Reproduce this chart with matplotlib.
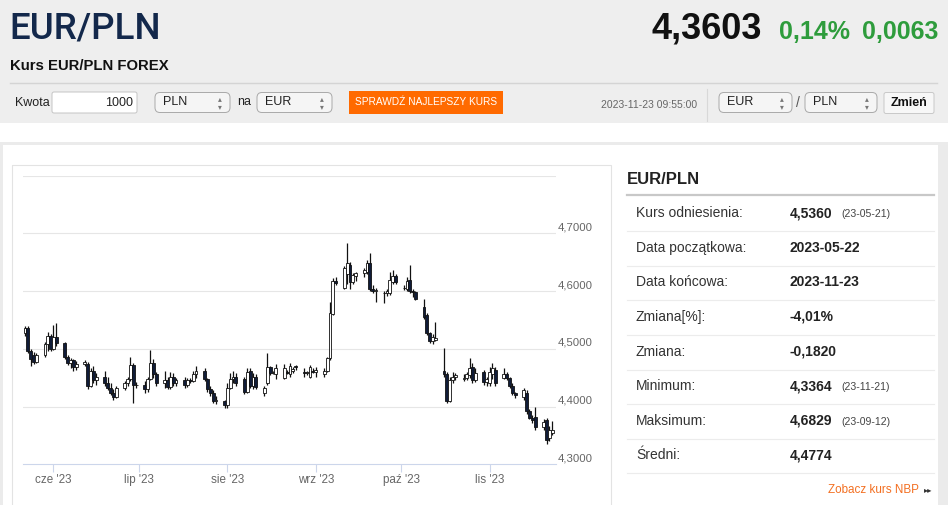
import numpy as np
import pandas as pd
import matplotlib
matplotlib.use('Agg')
import matplotlib.pyplot as plt
import matplotlib.dates as mdates
import matplotlib.transforms as mtransforms
from matplotlib.patches import Rectangle, FancyBboxPatch

plt.rcParams['font.family'] = ['Liberation Sans', 'DejaVu Sans']

# dzienne notowania EUR/PLN (dni robocze 2023-05-22 .. 2023-11-23)
dates = pd.bdate_range('2023-05-22', '2023-11-23')

opens = [
    4.527, 4.536, 4.497, 4.490, 4.478,
    4.489, 4.508, 4.522, 4.500, 4.521,
    4.510, 4.486, 4.476, 4.480, 4.468,
    4.474, 4.474, 4.436, 4.462, 4.446,
    4.452, 4.440, 4.432, 4.424, 4.416,
    4.432, 4.440, 4.448, 4.472, 4.438,
    4.437, 4.430, 4.448, 4.476, 4.456,
    4.440, 4.446, 4.434, 4.452, 4.440,
    4.446, 4.438, 4.446, 4.445, 4.456,
    4.462, 4.448, 4.430, 4.424, 4.410,
    4.410, 4.402, 4.432, 4.448, 4.452,
    4.448, 4.426, 4.462, 4.436, 4.452,
    4.424, 4.440, 4.468, 4.458, 4.456,
    4.450, 4.460, 4.456, 4.462, 4.470,
    4.460, 4.458, 4.452, 4.462, 4.460,
    4.456, 4.462, 4.484, 4.560, 4.618,
    4.606, 4.630, 4.646, 4.616, 4.626,
    4.632, 4.634, 4.648, 4.604, 4.600,
    4.596, 4.596, 4.597, 4.615, 4.627,
    4.606, 4.604, 4.620, 4.600, 4.598,
    4.572, 4.558, 4.527, 4.513, 4.516,
    4.462, 4.456, 4.410, 4.446, 4.452,
    4.448, 4.450, 4.454, 4.468, 4.446,
    4.460, 4.442, 4.440, 4.456, 4.464,
    4.450, 4.456, 4.450, 4.436, 4.424,
    4.416, 4.424, 4.392, 4.381, 4.382,
    4.364, 4.376, 4.346, 4.354,
]
highs = [
    4.540, 4.539, 4.500, 4.495, 4.492,
    4.512, 4.530, 4.526, 4.541, 4.545,
    4.512, 4.490, 4.484, 4.483, 4.479,
    4.480, 4.478, 4.466, 4.470, 4.458,
    4.462, 4.452, 4.440, 4.430, 4.436,
    4.445, 4.452, 4.486, 4.476, 4.442,
    4.445, 4.452, 4.498, 4.482, 4.460,
    4.462, 4.452, 4.460, 4.458, 4.450,
    4.452, 4.450, 4.450, 4.462, 4.470,
    4.466, 4.450, 4.436, 4.428, 4.418,
    4.412, 4.440, 4.458, 4.462, 4.458,
    4.452, 4.467, 4.466, 4.458, 4.456,
    4.436, 4.493, 4.470, 4.462, 4.474,
    4.473, 4.464, 4.475, 4.468, 4.472,
    4.466, 4.462, 4.472, 4.466, 4.468,
    4.466, 4.486, 4.581, 4.622, 4.624,
    4.644, 4.683, 4.650, 4.632, 4.634,
    4.640, 4.654, 4.666, 4.610, 4.606,
    4.600, 4.604, 4.633, 4.636, 4.630,
    4.610, 4.625, 4.645, 4.604, 4.600,
    4.586, 4.562, 4.530, 4.526, 4.547,
    4.502, 4.460, 4.452, 4.460, 4.458,
    4.456, 4.460, 4.484, 4.476, 4.466,
    4.464, 4.452, 4.468, 4.476, 4.468,
    4.467, 4.460, 4.452, 4.440, 4.426,
    4.432, 4.428, 4.396, 4.386, 4.400,
    4.378, 4.380, 4.366, 4.375,
]
lows = [
    4.522, 4.493, 4.470, 4.474, 4.476,
    4.486, 4.496, 4.497, 4.498, 4.505,
    4.483, 4.472, 4.466, 4.462, 4.463,
    4.470, 4.430, 4.434, 4.440, 4.438,
    4.436, 4.428, 4.420, 4.412, 4.414,
    4.428, 4.436, 4.444, 4.406, 4.432,
    4.424, 4.426, 4.446, 4.450, 4.436,
    4.432, 4.430, 4.430, 4.436, 4.436,
    4.432, 4.434, 4.440, 4.442, 4.450,
    4.444, 4.426, 4.418, 4.406, 4.404,
    4.398, 4.398, 4.430, 4.440, 4.436,
    4.422, 4.424, 4.432, 4.430, 4.430,
    4.419, 4.438, 4.454, 4.456, 4.448,
    4.448, 4.456, 4.452, 4.458, 4.464,
    4.452, 4.455, 4.450, 4.458, 4.452,
    4.452, 4.460, 4.480, 4.558, 4.610,
    4.604, 4.612, 4.604, 4.612, 4.618,
    4.624, 4.630, 4.600, 4.596, 4.581,
    4.580, 4.592, 4.594, 4.612, 4.612,
    4.602, 4.600, 4.596, 4.590, 4.584,
    4.552, 4.524, 4.510, 4.508, 4.514,
    4.452, 4.406, 4.408, 4.440, 4.446,
    4.444, 4.446, 4.450, 4.440, 4.442,
    4.438, 4.436, 4.436, 4.448, 4.436,
    4.448, 4.446, 4.432, 4.420, 4.414,
    4.412, 4.388, 4.378, 4.372, 4.360,
    4.360, 4.336, 4.340, 4.350,
]
closes = [
    4.536, 4.497, 4.482, 4.478, 4.489,
    4.508, 4.522, 4.500, 4.521, 4.510,
    4.486, 4.476, 4.480, 4.468, 4.474,
    4.477, 4.436, 4.462, 4.446, 4.452,
    4.440, 4.432, 4.424, 4.416, 4.432,
    4.440, 4.448, 4.472, 4.438, 4.437,
    4.430, 4.448, 4.476, 4.456, 4.440,
    4.446, 4.434, 4.452, 4.440, 4.446,
    4.438, 4.446, 4.445, 4.456, 4.462,
    4.448, 4.430, 4.424, 4.410, 4.412,
    4.402, 4.432, 4.448, 4.452, 4.440,
    4.426, 4.460, 4.436, 4.452, 4.434,
    4.432, 4.468, 4.458, 4.460, 4.466,
    4.466, 4.458, 4.470, 4.465, 4.468,
    4.458, 4.460, 4.468, 4.460, 4.464,
    4.462, 4.484, 4.562, 4.618, 4.614,
    4.640, 4.648, 4.616, 4.628, 4.632,
    4.636, 4.648, 4.604, 4.600, 4.602,
    4.597, 4.601, 4.620, 4.627, 4.615,
    4.605, 4.618, 4.600, 4.598, 4.586,
    4.556, 4.527, 4.513, 4.520, 4.518,
    4.456, 4.410, 4.446, 4.452, 4.454,
    4.450, 4.456, 4.467, 4.446, 4.458,
    4.442, 4.448, 4.460, 4.466, 4.440,
    4.456, 4.450, 4.436, 4.424, 4.420,
    4.428, 4.392, 4.381, 4.376, 4.364,
    4.374, 4.342, 4.360, 4.360,
]

y_ticks = [4.3, 4.4, 4.5, 4.6, 4.7, 4.8]
month_ticks = ['2023-06-01', '2023-07-01', '2023-08-01', '2023-09-01', '2023-10-01', '2023-11-01']
month_labels = ["cze '23", "lip '23", "sie '23", "wrz '23", "paź '23", "lis '23"]

table_labels = ['Kurs odniesienia:', 'Data początkowa:', 'Data końcowa:', 'Zmiana[%]:',
                'Zmiana:', 'Minimum:', 'Maksimum:', 'Średni:']
table_values = ['4,5360', '2023-05-22', '2023-11-23', '-4,01%', '-0,1820', '4,3364', '4,6829', '4,4774']
table_dates = ['(23-05-21)', '', '', '', '', '(23-11-21)', '(23-09-12)', '']

W, H = 948, 505
fig = plt.figure(figsize=(W / 100, H / 100), dpi=100)

# tło strony w pikselach
bg = fig.add_axes([0, 0, 1, 1])
bg.set_xlim(0, W)
bg.set_ylim(H, 0)
bg.axis('off')

bg.add_patch(Rectangle((0, 0), W, 123, color='#eeeeee', lw=0))
bg.add_patch(Rectangle((0, 142), W, H - 142, color='#ebebeb', lw=0))
bg.add_patch(Rectangle((3, 145), 935, H - 145, color='white', lw=0))
bg.plot([10, 937], [82.5, 82.5], color='#d4d4d4', lw=1)
bg.add_patch(Rectangle((12.5, 165), 599, 350, fill=False, ec='#e3e3e3', lw=0.8))

# nagłówek
bg.text(9, 29, 'EUR/PLN', fontsize=26.5, fontweight='medium', color='#13284b', va='center', ha='left',
        family=['Roboto', 'DejaVu Sans'])
bg.text(10, 66, 'Kurs EUR/PLN FOREX', fontsize=10.7, fontweight='bold', color='#111111', va='center')
bg.text(762, 29, '4,3603', fontsize=26, fontweight='bold', color='#111111', va='center', ha='right')
bg.text(850, 32, '0,14%', fontsize=18, fontweight='bold', color='#2e9c3c', va='center', ha='right')
bg.text(938, 32, '0,0063', fontsize=18, fontweight='bold', color='#2e9c3c', va='center', ha='right')


def select_box(x0, x1, label):
    bg.add_patch(FancyBboxPatch((x0, 92.5), x1 - x0, 20, boxstyle='round,pad=0,rounding_size=5',
                                fc='#f5f5f5', ec='#a9a9a9', lw=0.7))
    bg.text(x0 + 8, 102, label, fontsize=9, color='#222222', va='center')
    bg.text(x1 - 10, 102.5, '▴\n▾', fontsize=5.5, color='#777777', va='center', ha='center',
            linespacing=0.75, family='DejaVu Sans')


bg.text(15, 103, 'Kwota', fontsize=9, color='#222222', va='center')
bg.add_patch(FancyBboxPatch((52, 92), 85, 21, boxstyle='round,pad=0,rounding_size=2',
                            fc='white', ec='#c4c4c4', lw=0.7))
bg.text(133, 103, '1000', fontsize=9, color='#222222', va='center', ha='right')
select_box(155, 230, 'PLN')
bg.text(237, 102, 'na', fontsize=9, color='#222222', va='center')
select_box(257, 332, 'EUR')
bg.add_patch(Rectangle((349, 90.5), 154, 23, color='#ff6a00', lw=0))
bg.text(426, 102, 'SPRAWDŹ NAJLEPSZY KURS', fontsize=7.3, color='white', va='center', ha='center')

bg.text(697, 105, '2023-11-23 09:55:00', fontsize=7.5, color='#666666', va='center', ha='right')
bg.plot([707, 707], [89, 121], color='#d8d8d8', lw=0.8)
select_box(719, 792, 'EUR')
bg.text(798, 103, '/', fontsize=10, color='#555555', va='center', ha='center')
select_box(805, 877, 'PLN')
bg.add_patch(FancyBboxPatch((884, 92.5), 50, 21, boxstyle='round,pad=0,rounding_size=2',
                            fc='#f7f7f7', ec='#c8c8c8', lw=0.7))
bg.text(909, 103, 'Zmień', fontsize=9, fontweight='bold', color='#111111', va='center', ha='center')

# tabela po prawej
bg.text(627, 179, 'EUR/PLN', fontsize=12, fontweight='bold', color='#222222', va='center')
bg.plot([627, 934], [194.5, 194.5], color='#c8c8c8', lw=1.6)
row_y = [213.3 + 34.55 * i for i in range(len(table_labels))]
for yy, lab, val, dt in zip(row_y, table_labels, table_values, table_dates):
    bg.text(636, yy, lab, fontsize=10, color='#333333', va='center')
    bg.text(790, yy, val, fontsize=10, fontweight='bold', color='#222222', va='center')
    if dt:
        bg.text(841, yy + 1, dt, fontsize=7.6, color='#444444', va='center')
    bg.plot([627, 934], [yy + 18, yy + 18], color='#ececec', lw=0.8)
bg.text(919, 490, 'Zobacz kurs NBP', fontsize=8.4, color='#f36f21', va='center', ha='right')
bg.text(928, 490, '▸▸', fontsize=6, color='#333333', va='center', ha='center', family='DejaVu Sans')

# wykres świecowy
x0_px, x1_px, top_px, bot_px = 23, 556, 175.7, 464.3
ax = fig.add_axes([x0_px / W, 1 - bot_px / H, (x1_px - x0_px) / W, (bot_px - top_px) / H])
ax.patch.set_visible(False)

xd = mdates.date2num(dates)
start = xd[0]
ax.set_xlim(start - 0.7, start + 186.3)
ax.set_ylim(4.3, 4.8)

for x, o, h, l, c in zip(xd, opens, highs, lows, closes):
    ax.vlines(x, l, h, color='#111111', lw=0.9, zorder=2)
    up = c >= o
    ax.bar(x, max(abs(c - o), 0.0012), bottom=min(o, c), width=1.0,
           color='white' if up else '#101c38', edgecolor='#111111', lw=0.6, zorder=3)

for s in ax.spines.values():
    s.set_visible(False)
ax.spines['bottom'].set_visible(True)
ax.spines['bottom'].set_color('#ccd6eb')
ax.spines['bottom'].set_linewidth(0.8)

ax.set_yticks(y_ticks[1:])
ax.yaxis.grid(True, color='#e6e6e6', lw=0.8)
ax.set_axisbelow(True)
ax.tick_params(axis='y', length=0, labelleft=False)
lab_trans = mtransforms.offset_copy(ax.get_yaxis_transform(), fig=fig, x=2, y=6, units='dots')
for v in y_ticks[:-1]:
    ax.text(1.0, v, f'{v:.4f}'.replace('.', ','), transform=lab_trans, fontsize=8.2,
            color='#666666', va='center', ha='left')

ax.set_xticks(mdates.date2num(pd.to_datetime(month_ticks)))
ax.set_xticklabels(month_labels, fontsize=8.4, color='#666666')
ax.tick_params(axis='x', length=6, width=0.8, color='#ccd6eb', pad=1)

fig.savefig('out.png', dpi=100)
